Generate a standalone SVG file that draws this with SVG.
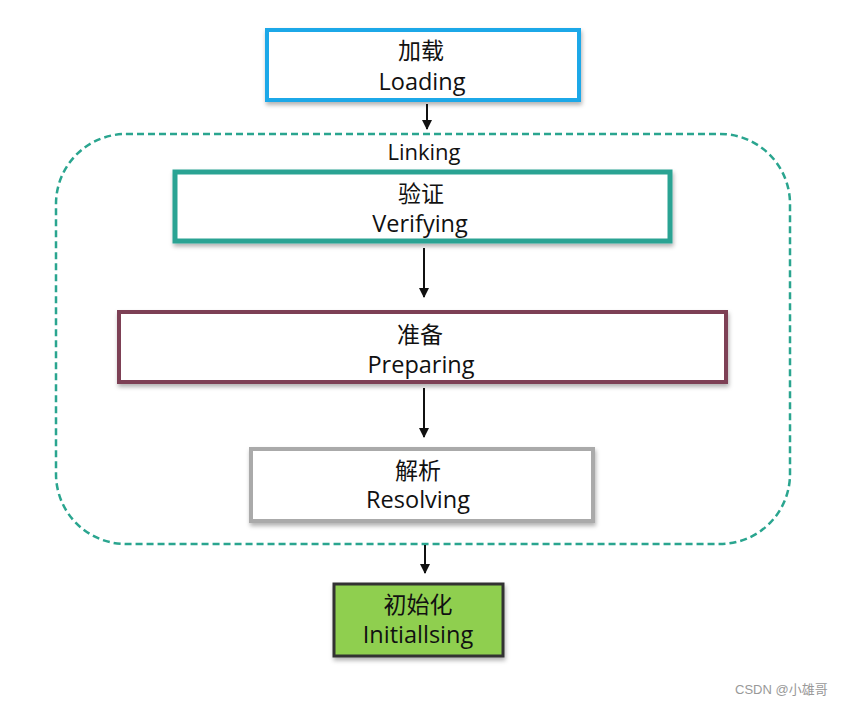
<svg xmlns="http://www.w3.org/2000/svg" width="850" height="704" viewBox="0 0 850 704">
<defs>
<filter id="sh" x="-10%" y="-20%" width="120%" height="150%">
<feDropShadow dx="1" dy="3" stdDeviation="2" flood-color="#000" flood-opacity="0.3"/>
</filter>
<marker id="ah" viewBox="0 0 10 10" refX="9" refY="5" markerWidth="11" markerHeight="10" orient="auto" markerUnits="userSpaceOnUse">
<path d="M0,0 L10,5 L0,10 z" fill="#111"/>
</marker>
<style>
.zh{font-family:"Noto Sans CJK SC","Noto Sans",sans-serif;font-size:23px;fill:#111;text-anchor:middle}
.en{font-family:"Open Sans","Noto Sans",sans-serif;font-size:23.5px;fill:#111;text-anchor:middle}
.box{fill:#fff;filter:url(#sh)}
.conn{stroke:#111;stroke-width:2;fill:none}
</style>
</defs>
<rect width="850" height="704" fill="#fff"/>
<g id="linking">
<rect x="56" y="134" width="734" height="410" rx="70" ry="70" fill="none" stroke="#2aa58f" stroke-width="2.5" stroke-dasharray="7,4"/>
<text class="en" x="424" y="160" style="font-size:22px">Linking</text>
</g>
<g id="loading">
<rect class="box" x="267" y="30" width="312" height="70" stroke="#1ea8e8" stroke-width="4"/>
<text class="zh" x="421" y="59">加载</text>
<text class="en" x="422" y="90">Loading</text>
</g>
<g id="verifying">
<rect class="box" x="175" y="172" width="495" height="69" stroke="#2ba393" stroke-width="5"/>
<text class="zh" x="421" y="202">验证</text>
<text class="en" x="420" y="232">Verifying</text>
</g>
<g id="preparing">
<rect class="box" x="119" y="312" width="607" height="70" stroke="#7d4155" stroke-width="4"/>
<text class="zh" x="420" y="343">准备</text>
<text class="en" x="421" y="373">Preparing</text>
</g>
<g id="resolving">
<rect class="box" x="251" y="449" width="342" height="72" stroke="#aaaaaa" stroke-width="4"/>
<text class="zh" x="418" y="479">解析</text>
<text class="en" x="418" y="508">Resolving</text>
</g>
<g id="initialising">
<rect x="334" y="584" width="169" height="72" fill="#8fcf4f" stroke="#333" stroke-width="3" filter="url(#sh)"/>
<text class="zh" x="418" y="613">初始化</text>
<text class="en" x="418" y="643">Initiallsing</text>
</g>
<g id="connectors">
<line class="conn" x1="427" y1="104" x2="427" y2="129" marker-end="url(#ah)"/>
<line class="conn" x1="424" y1="248" x2="424" y2="297" marker-end="url(#ah)"/>
<line class="conn" x1="424" y1="388" x2="424" y2="437" marker-end="url(#ah)"/>
<line class="conn" x1="425" y1="545" x2="425" y2="573" marker-end="url(#ah)"/>
</g>
<text x="735" y="694" font-family="Liberation Sans,Noto Sans CJK SC,sans-serif" font-size="13" fill="#999">CSDN @小雄哥</text>
</svg>
